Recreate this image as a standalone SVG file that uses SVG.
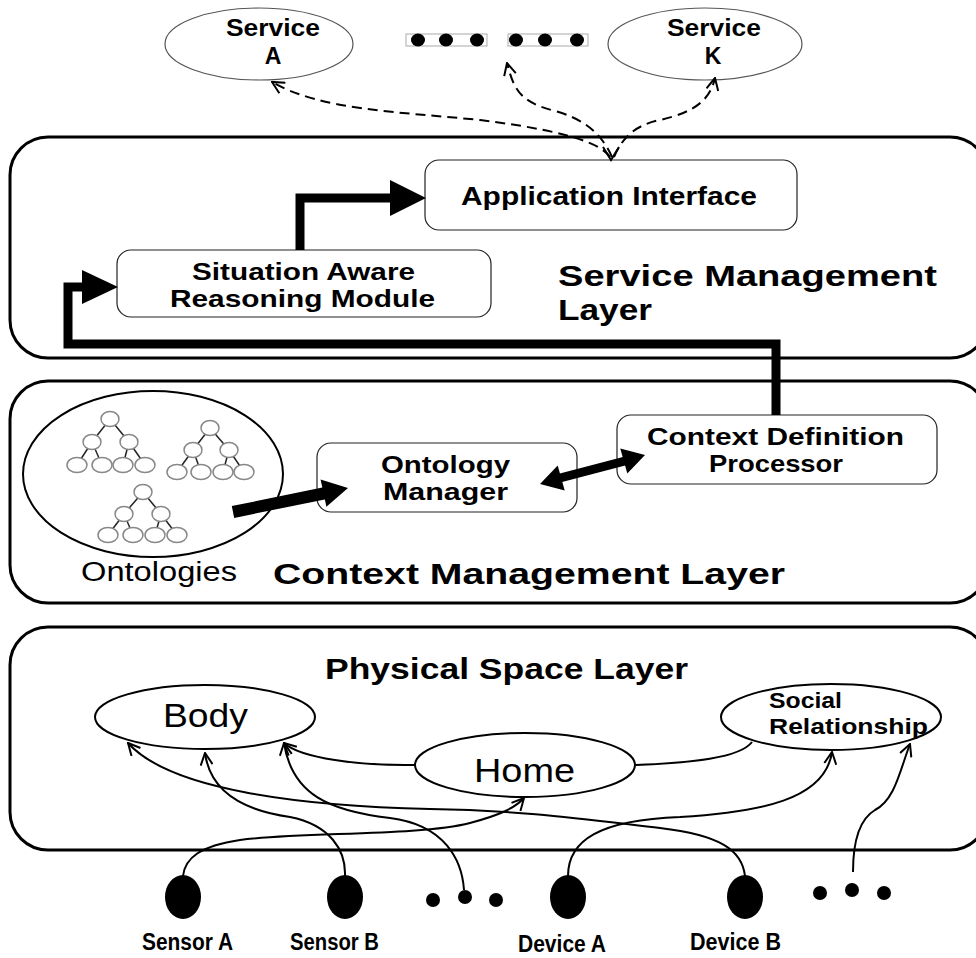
<svg xmlns="http://www.w3.org/2000/svg" width="976" height="958" viewBox="0 0 976 958">
  <style>
    .layer { fill: #fff; stroke: #000; stroke-width: 3; }
    .box { fill: #fff; stroke: #222; stroke-width: 1.2; }
    .ell { fill: #fff; stroke: #000; stroke-width: 2; }
    .svc { fill: #fff; stroke: #555; stroke-width: 1.2; }
    .t { font-family: 'Liberation Sans', Arial, sans-serif; fill: #000; }
    .b { font-weight: 700; }
    .thick { fill: none; stroke: #000; stroke-width: 9; stroke-linejoin: miter; }
    .thin { fill: none; stroke: #000; stroke-width: 2; }
    .dash { fill: none; stroke: #000; stroke-width: 2; stroke-dasharray: 10 6; }
    .tn { fill: #fff; stroke: #888; stroke-width: 1.5; }
    .te { stroke: #222; stroke-width: 1.5; }
  </style>
  <defs>
    <marker id="open" markerUnits="userSpaceOnUse" viewBox="0 0 14 14" refX="13" refY="7" markerWidth="14" markerHeight="14" orient="auto">
      <path d="M1,1 L13,7 L1,13" fill="none" stroke="#000" stroke-width="2"/>
    </marker>
  </defs>

  <!-- layers -->
  <g id="service-layer">
    <rect class="layer" x="10" y="137" width="978" height="221" rx="38"/>
    <text class="t b" x="558" y="286" font-size="29" textLength="379" lengthAdjust="spacingAndGlyphs">Service Management</text>
    <text class="t b" x="558" y="320" font-size="29" textLength="94" lengthAdjust="spacingAndGlyphs">Layer</text>
  </g>
  <g id="context-layer">
    <rect class="layer" x="10" y="381" width="978" height="222" rx="38"/>
    <text class="t b" x="273" y="584" font-size="29" textLength="512" lengthAdjust="spacingAndGlyphs">Context  Management Layer</text>
  </g>
  <g id="physical-layer">
    <rect class="layer" x="10" y="627" width="978" height="223" rx="38"/>
    <text class="t b" x="325" y="679" font-size="29" textLength="363" lengthAdjust="spacingAndGlyphs">Physical Space Layer</text>
  </g>

  <!-- services -->
  <g id="service-a">
    <ellipse class="svc" cx="259" cy="44" rx="94" ry="36"/>
    <text class="t b" x="226" y="36" font-size="23" textLength="94" lengthAdjust="spacingAndGlyphs">Service</text>
    <text class="t b" x="273" y="64" font-size="23" text-anchor="middle">A</text>
  </g>
  <g id="service-more">
    <rect x="406" y="34" width="81" height="12" fill="none" stroke="#aaa" stroke-width="1"/>
    <ellipse cx="418" cy="40" rx="7" ry="6.5"/>
    <ellipse cx="446" cy="40" rx="7" ry="6.5"/>
    <ellipse cx="477" cy="40" rx="7" ry="6.5"/>
    <rect x="508" y="34" width="80" height="12" fill="none" stroke="#aaa" stroke-width="1"/>
    <ellipse cx="516" cy="40" rx="7" ry="6.5"/>
    <ellipse cx="545" cy="40" rx="7" ry="6.5"/>
    <ellipse cx="577" cy="40" rx="7" ry="6.5"/>
  </g>
  <g id="service-k">
    <ellipse class="svc" cx="705" cy="44" rx="97" ry="36"/>
    <text class="t b" x="667" y="36" font-size="23" textLength="94" lengthAdjust="spacingAndGlyphs">Service</text>
    <text class="t b" x="713" y="64" font-size="23" text-anchor="middle">K</text>
  </g>

  <!-- service management nodes -->
  <g id="application-interface">
    <rect class="box" x="425" y="160" width="372" height="70" rx="14"/>
    <text class="t b" x="461" y="205" font-size="25" textLength="296" lengthAdjust="spacingAndGlyphs">Application Interface</text>
  </g>
  <g id="situation-aware-reasoning">
    <rect class="box" x="117" y="250" width="374" height="67" rx="14"/>
    <text class="t b" x="192" y="280" font-size="23" textLength="223" lengthAdjust="spacingAndGlyphs">Situation Aware</text>
    <text class="t b" x="170" y="307" font-size="23" textLength="265" lengthAdjust="spacingAndGlyphs">Reasoning Module</text>
  </g>

  <!-- context management nodes -->
  <g id="ontologies">
    <ellipse class="ell" cx="153" cy="474" rx="130" ry="83"/>
    <g>
      <line class="te" x1="110" y1="419" x2="92" y2="442"/>
      <line class="te" x1="110" y1="419" x2="129" y2="442"/>
      <line class="te" x1="92" y1="442" x2="77" y2="465"/>
      <line class="te" x1="92" y1="442" x2="102" y2="465"/>
      <line class="te" x1="129" y1="442" x2="123" y2="465"/>
      <line class="te" x1="129" y1="442" x2="145" y2="465"/>
      <ellipse class="tn" cx="110" cy="419" rx="9" ry="7.5"/>
      <ellipse class="tn" cx="92" cy="442" rx="9" ry="7.5"/>
      <ellipse class="tn" cx="129" cy="442" rx="9" ry="7.5"/>
      <ellipse class="tn" cx="77" cy="465" rx="10" ry="7.5"/>
      <ellipse class="tn" cx="102" cy="465" rx="10" ry="7.5"/>
      <ellipse class="tn" cx="123" cy="465" rx="10" ry="7.5"/>
      <ellipse class="tn" cx="145" cy="465" rx="10" ry="7.5"/>
    </g>
    <g>
      <line class="te" x1="210" y1="428" x2="193" y2="450"/>
      <line class="te" x1="210" y1="428" x2="229" y2="450"/>
      <line class="te" x1="193" y1="450" x2="177" y2="472"/>
      <line class="te" x1="193" y1="450" x2="201" y2="472"/>
      <line class="te" x1="229" y1="450" x2="223" y2="472"/>
      <line class="te" x1="229" y1="450" x2="244" y2="472"/>
      <ellipse class="tn" cx="210" cy="428" rx="9" ry="7.5"/>
      <ellipse class="tn" cx="193" cy="450" rx="9" ry="7.5"/>
      <ellipse class="tn" cx="229" cy="450" rx="9" ry="7.5"/>
      <ellipse class="tn" cx="177" cy="472" rx="10" ry="7.5"/>
      <ellipse class="tn" cx="201" cy="472" rx="10" ry="7.5"/>
      <ellipse class="tn" cx="223" cy="472" rx="10" ry="7.5"/>
      <ellipse class="tn" cx="244" cy="472" rx="10" ry="7.5"/>
    </g>
    <g>
      <line class="te" x1="143" y1="492" x2="124" y2="514"/>
      <line class="te" x1="143" y1="492" x2="161" y2="514"/>
      <line class="te" x1="124" y1="514" x2="108" y2="535"/>
      <line class="te" x1="124" y1="514" x2="133" y2="535"/>
      <line class="te" x1="161" y1="514" x2="155" y2="535"/>
      <line class="te" x1="161" y1="514" x2="177" y2="535"/>
      <ellipse class="tn" cx="143" cy="492" rx="9" ry="7.5"/>
      <ellipse class="tn" cx="124" cy="514" rx="9" ry="7.5"/>
      <ellipse class="tn" cx="161" cy="514" rx="9" ry="7.5"/>
      <ellipse class="tn" cx="108" cy="535" rx="10" ry="7.5"/>
      <ellipse class="tn" cx="133" cy="535" rx="10" ry="7.5"/>
      <ellipse class="tn" cx="155" cy="535" rx="10" ry="7.5"/>
      <ellipse class="tn" cx="177" cy="535" rx="10" ry="7.5"/>
    </g>
    <text class="t" x="81" y="581" font-size="27" textLength="156" lengthAdjust="spacingAndGlyphs">Ontologies</text>
  </g>
  <g id="ontology-manager">
    <rect class="box" x="317" y="443" width="260" height="69" rx="14"/>
    <text class="t b" x="381" y="473" font-size="23" textLength="129" lengthAdjust="spacingAndGlyphs">Ontology</text>
    <text class="t b" x="383" y="500" font-size="23" textLength="125" lengthAdjust="spacingAndGlyphs">Manager</text>
  </g>
  <g id="context-definition-processor">
    <rect class="box" x="617" y="415" width="320" height="69" rx="14"/>
    <text class="t b" x="647" y="445" font-size="23" textLength="257" lengthAdjust="spacingAndGlyphs">Context Definition</text>
    <text class="t b" x="709" y="472" font-size="23" textLength="134" lengthAdjust="spacingAndGlyphs">Processor</text>
  </g>

  <!-- physical space nodes -->
  <g id="body">
    <ellipse class="ell" cx="205" cy="717" rx="110" ry="32"/>
    <text class="t" x="163" y="727" font-size="33" textLength="85" lengthAdjust="spacingAndGlyphs">Body</text>
  </g>
  <g id="home">
    <ellipse class="ell" cx="525" cy="765" rx="110" ry="32"/>
    <text class="t" x="474" y="782" font-size="33" textLength="101" lengthAdjust="spacingAndGlyphs">Home</text>
  </g>
  <g id="social-relationship">
    <ellipse class="ell" cx="831" cy="717" rx="110" ry="33"/>
    <text class="t b" x="769" y="708" font-size="22" textLength="73" lengthAdjust="spacingAndGlyphs">Social</text>
    <text class="t b" x="769" y="734" font-size="22" textLength="159" lengthAdjust="spacingAndGlyphs">Relationship</text>
  </g>

  <!-- sensors and devices -->
  <g id="sensor-a">
    <ellipse cx="183" cy="897" rx="18" ry="22"/>
    <text class="t b" x="142" y="950" font-size="23" textLength="91" lengthAdjust="spacingAndGlyphs">Sensor A</text>
  </g>
  <g id="sensor-b">
    <ellipse cx="345" cy="897" rx="18" ry="22"/>
    <text class="t b" x="290" y="950" font-size="23" textLength="89" lengthAdjust="spacingAndGlyphs">Sensor B</text>
  </g>
  <g id="sensor-more">
    <ellipse cx="433" cy="900" rx="7" ry="7"/>
    <ellipse cx="465" cy="897" rx="7" ry="7"/>
    <ellipse cx="496" cy="900" rx="7" ry="7"/>
  </g>
  <g id="device-a">
    <ellipse cx="568" cy="897" rx="18" ry="22"/>
    <text class="t b" x="518" y="952" font-size="23" textLength="88" lengthAdjust="spacingAndGlyphs">Device A</text>
  </g>
  <g id="device-b">
    <ellipse cx="745" cy="897" rx="18" ry="22"/>
    <text class="t b" x="690" y="950" font-size="23" textLength="91" lengthAdjust="spacingAndGlyphs">Device B</text>
  </g>
  <g id="device-more">
    <ellipse cx="820" cy="893" rx="7" ry="7"/>
    <ellipse cx="852" cy="890" rx="7" ry="7"/>
    <ellipse cx="884" cy="893" rx="7" ry="7"/>
  </g>

  <!-- connectors -->
  <g id="connectors">
    <!-- application interface to services -->
    <path class="dash" d="M610,157 C600,142 560,130 480,120 C400,112 320,110 272,82" marker-end="url(#open)"/>
    <path class="dash" d="M612,157 C600,130 580,118 555,111 C520,102 514,90 507,63" marker-end="url(#open)"/>
    <path class="dash" d="M614,157 C622,138 635,125 660,120 C695,112 710,100 715,78" marker-end="url(#open)"/>
    <path class="thin" d="M603,147 L611,160 L619,147" stroke-width="1.6"/>

    <!-- reasoning module to application interface -->
    <polyline class="thick" points="300,250 300,198 392,198"/>
    <polygon points="390,180 426,198 390,216"/>
    <!-- context definition processor to reasoning module -->
    <polyline class="thick" points="776,415 776,344 68,344 68,287 84,287"/>
    <polygon points="82,270 118,287 82,304"/>
    <!-- ontologies to ontology manager -->
    <line x1="233" y1="512" x2="326" y2="493" stroke="#000" stroke-width="12"/>
    <polygon points="348,488 326.4,506.8 320.6,479.4"/>
    <!-- ontology manager and context definition processor -->
    <line x1="560" y1="478" x2="625" y2="461" stroke="#000" stroke-width="9"/>
    <polygon points="645,455 627.3,473.4 620.3,448.4"/>
    <polygon points="540,484 564.7,490.6 557.7,465.6"/>

    <!-- physical space links -->
    <path class="thin" d="M415,765 C360,766 300,758 284,743" marker-end="url(#open)"/>
    <path class="thin" d="M636,765 C690,763 740,758 752,742"/>
    <path class="thin" d="M183,876 C185,858 200,846 240,840 C300,832 420,836 470,823 C500,815 515,808 524,798" marker-end="url(#open)"/>
    <path class="thin" d="M345,876 C346,850 330,825 290,817 C240,810 210,790 205,753" marker-end="url(#open)"/>
    <path class="thin" d="M464,890 C462,860 445,825 390,818 C330,811 292,795 284,743" marker-end="url(#open)"/>
    <path class="thin" d="M745,876 C742,850 720,835 660,828 C590,820 520,810 430,809 C300,806 170,790 128,743" marker-end="url(#open)"/>
    <path class="thin" d="M568,876 C568,840 600,820 680,817 C760,812 825,800 832,752" marker-end="url(#open)"/>
    <path class="thin" d="M853,872 C853,845 858,820 875,810 C895,800 900,770 910,744" marker-end="url(#open)"/>
  </g>
</svg>
